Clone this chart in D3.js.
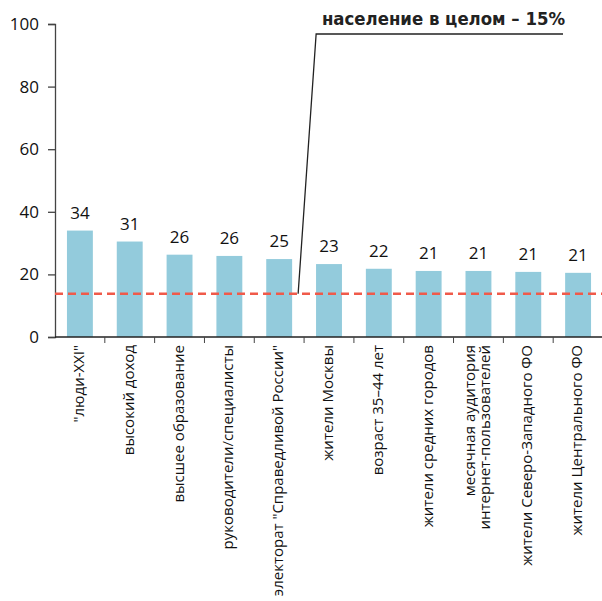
<!DOCTYPE html>
<html>
<head>
<meta charset="utf-8">
<script src="https://cdn.jsdelivr.net/npm/d3@7"></script>
<style>
  body { margin: 0; background: #fff; }
</style>
</head>
<body>
<svg width="602" height="601"></svg>
<script>
// data
var categories = [
    ['"люди-XXI"'],
    ['высокий доход'],
    ['высшее образование'],
    ['руководители/специалисты'],
    ['электорат "Справедливой России"'],
    ['жители Москвы'],
    ['возраст 35–44 лет'],
    ['жители средних городов'],
    ['месячная аудитория', 'интернет-пользователей'],
    ['жители Северо-Западного ФО'],
    ['жители Центрального ФО']
]
var values = [34, 30.5, 26.3, 25.9, 24.9, 23.3, 21.8, 21.1, 21.1, 20.8, 20.5]
var valueLabels = ['34', '31', '26', '26', '25', '23', '22', '21', '21', '21', '21']
var yTicks = [0, 20, 40, 60, 80, 100]
var totalLevel = 13.8
var calloutLevel = 96.8
var totalText = 'население в целом – 15%'

var svg = d3.select('svg')
var padLeft = 55, padRight = 603, padTop = 24, padBottom = 337

var xScale = d3.scaleBand()
    .domain(d3.range(categories.length))
    .range([padLeft, padRight])
    .paddingInner(0.48)
    .paddingOuter(0.24)
var yScale = d3.scaleLinear()
    .domain([0, 100])
    .range([padBottom, padTop])

// bars
svg.append('g').selectAll('rect')
    .data(values)
    .enter()
    .append('rect')
    .attr('x', (d, i) => xScale(i))
    .attr('y', d => yScale(d))
    .attr('width', xScale.bandwidth())
    .attr('height', d => yScale(0) - yScale(d))
    .style('fill', '#93cbdc')

// value labels
svg.append('g').selectAll('text')
    .data(values)
    .enter()
    .append('text')
    .attr('x', (d, i) => xScale(i) + xScale.bandwidth() / 2)
    .attr('y', d => yScale(d) - 12)
    .attr('text-anchor', 'middle')
    .style('font-family', 'Open Sans, sans-serif')
    .style('font-size', '17px')
    .style('fill', '#111')
    .text((d, i) => valueLabels[i])

// y axis
var yAxis = svg.append('g')
    .attr('transform', 'translate(' + padLeft + ',0)')
    .call(d3.axisLeft(yScale).tickValues(yTicks).tickSize(7).tickPadding(9))
yAxis.select('.domain').attr('stroke', '#444').attr('stroke-width', 1.3)
yAxis.selectAll('.tick line').attr('stroke', '#444').attr('stroke-width', 1.3)
yAxis.selectAll('.tick text')
    .style('font-family', 'Open Sans, sans-serif')
    .style('font-size', '17px')
    .style('fill', '#111')

// x axis line and ticks between categories
var step = xScale.step()
var bounds = d3.range(categories.length + 1).map(i => xScale(i) - (step - xScale.bandwidth()) / 2)
svg.append('line')
    .attr('x1', padLeft).attr('x2', 602)
    .attr('y1', padBottom).attr('y2', padBottom)
    .attr('stroke', '#222').attr('stroke-width', 1.5)
svg.append('g').selectAll('line')
    .data(bounds.slice(1, categories.length))
    .enter()
    .append('line')
    .attr('x1', d => d).attr('x2', d => d)
    .attr('y1', padBottom).attr('y2', padBottom + 6)
    .attr('stroke', '#444').attr('stroke-width', 1)

// category labels (rotated)
var labels = svg.append('g').selectAll('text')
    .data(categories)
    .enter()
    .append('text')
    .attr('transform', (d, i) => {
        var cx = xScale(i) + xScale.bandwidth() / 2 + 4 - (d.length - 1) * 7
        return 'translate(' + cx + ',' + (padBottom + 8) + ')rotate(-90)'
    })
    .attr('text-anchor', 'end')
    .style('font-family', 'Open Sans, sans-serif')
    .style('font-size', '15px')
    .style('fill', '#111')
labels.selectAll('tspan')
    .data(d => d)
    .enter()
    .append('tspan')
    .attr('x', 0)
    .attr('dy', (d, j) => j == 0 ? 0 : '0.95em')
    .text(d => d)

// population level line
svg.append('line')
    .attr('x1', padLeft).attr('x2', 602)
    .attr('y1', yScale(totalLevel)).attr('y2', yScale(totalLevel))
    .attr('stroke', '#f05a4a')
    .attr('stroke-width', 2.6)
    .attr('stroke-dasharray', '8,5')

// callout
var ax = xScale(4) + xScale.bandwidth() + 6
svg.append('path')
    .attr('d', 'M' + ax + ',' + yScale(totalLevel) + 'L' + (ax + 18) + ',' + yScale(calloutLevel) + 'L563,' + yScale(calloutLevel))
    .style('fill', 'none')
    .style('stroke', '#222')
    .style('stroke-width', 1.3)
svg.append('text')
    .attr('x', 565)
    .attr('y', 25)
    .attr('text-anchor', 'end')
    .style('font-family', '"Liberation Sans Narrow", "DejaVu Sans Condensed", sans-serif')
    .style('font-weight', 'bold')
    .style('font-size', '18.4px')
    .style('fill', '#222')
    .text(totalText)
</script>
</body>
</html>
